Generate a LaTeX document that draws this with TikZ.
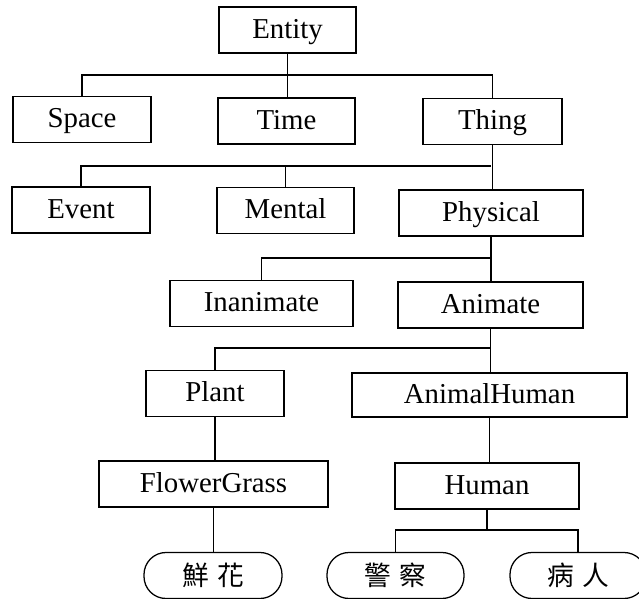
\documentclass[tikz,border=0pt]{standalone}
\usepackage{fontspec}
\setmainfont{Liberation Serif}
\newfontfamily\cjkfont{Noto Sans CJK TC}
\usetikzlibrary{shapes.misc}
\newcommand\pxu{0.025cm}
\begin{document}
\begin{tikzpicture}[x=0.025cm, y=-0.025cm,
  box/.style={draw, rectangle, line width=0.9pt, minimum height=46*\pxu, inner sep=0pt,
    text height=14pt, text depth=2.6pt, font=\fontsize{20.5}{24}\selectfont},
  leaf/.style={draw, rectangle, rounded corners=0.55cm, line width=0.9pt, minimum height=46*\pxu,
    minimum width=137*\pxu, inner sep=0pt, font=\fontsize{19}{22}\cjkfont},
  conn/.style={line width=0.9pt}]
\useasboundingbox (0,0) rectangle (639,599);
\clip (0,0) rectangle (639,599);
% nodes
\node[box, minimum width=137*\pxu] (entity) at (287.5,30) {Entity};
\node[box, minimum width=138*\pxu] (space) at (82,119.5) {Space};
\node[box, minimum width=137*\pxu] (time) at (286.5,121) {Time};
\node[box, minimum width=139*\pxu] (thing) at (492.5,121.5) {Thing};
\node[box, minimum width=138*\pxu] (event) at (81,210) {Event};
\node[box, minimum width=137*\pxu] (mental) at (285.5,210.5) {Mental};
\node[box, minimum width=184*\pxu] (physical) at (491,213) {Physical};
\node[box, minimum width=183*\pxu] (inanimate) at (261.5,303.5) {Inanimate};
\node[box, minimum width=185*\pxu] (animate) at (490.5,305) {Animate};
\node[box, minimum width=138*\pxu] (plant) at (215,393.5) {Plant};
\node[box, minimum width=275*\pxu, minimum height=44*\pxu] (animalhuman) at (489.5,395) {AnimalHuman};
\node[box, minimum width=229*\pxu] (flowergrass) at (213.5,484) {FlowerGrass};
\node[box, minimum width=184*\pxu] (human) at (487,486) {Human};
\node[leaf, minimum width=138*\pxu] (xianhua) at (213,575.5) {鮮\hspace{6pt}花};
\node[leaf] (jingcha) at (395.5,575.5) {警\hspace{6pt}察};
\node[leaf, minimum width=136*\pxu] (bingren) at (578,575.5) {病\hspace{6pt}人};
% bus coordinates
\coordinate (b1) at (0,75);
\coordinate (b2) at (0,166);
\coordinate (b3) at (0,258);
\coordinate (b4) at (0,348);
\coordinate (b5) at (0,530);
% connectors
\draw[conn] (space.north) -- (space.north |- b1) -- (thing.north |- b1) -- (thing.north);
\draw[conn] (entity.south) -- (entity.south |- time.north);
\draw[conn] (event.north) -- (event.north |- b2) -- (physical.north |- b2);
\draw[conn] (mental.north) -- (mental.north |- b2);
\draw[conn] (thing.south) -- (thing.south |- physical.north);
\draw[conn] (inanimate.north) -- (inanimate.north |- b3) -- (physical.south |- b3);
\draw[conn] (physical.south) -- (physical.south |- animate.north);
\draw[conn] (plant.north) -- (plant.north |- b4) -- (animate.south |- b4);
\draw[conn] (animate.south) -- (animate.south |- animalhuman.north);
\draw[conn] (plant.south) -- (plant.south |- flowergrass.north);
\draw[conn] (flowergrass.south) -- (flowergrass.south |- xianhua.north);
\draw[conn] (animalhuman.south) -- (animalhuman.south |- human.north);
\draw[conn] (human.south) -- (human.south |- b5);
\draw[conn] (jingcha.north) -- (jingcha.north |- b5) -- (bingren.north |- b5) -- (bingren.north);
\end{tikzpicture}
\end{document}
